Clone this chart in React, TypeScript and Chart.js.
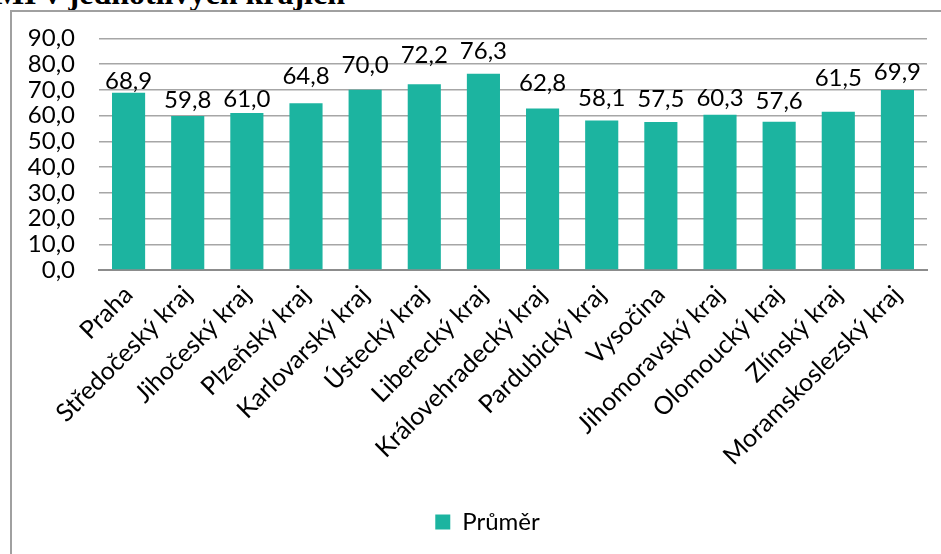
import React, { useEffect, useRef } from "react";
import { Chart, registerables } from "chart.js";

Chart.register(...registerables);

const categories = [
  "Praha",
  "Středočeský kraj",
  "Jihočeský kraj",
  "Plzeňský kraj",
  "Karlovarský kraj",
  "Ústecký kraj",
  "Liberecký kraj",
  "Královehradecký kraj",
  "Pardubický kraj",
  "Vysočina",
  "Jihomoravský kraj",
  "Olomoucký kraj",
  "Zlínský kraj",
  "Moramskoslezský kraj",
];
const seriesName = "Průměr";
const values = [68.9, 59.8, 61.0, 64.8, 70.0, 72.2, 76.3, 62.8, 58.1, 57.5, 60.3, 57.6, 61.5, 69.9];
const yTicks = [0, 10, 20, 30, 40, 50, 60, 70, 80, 90];
const titleText = "Graf 1: Průměrné hodnoty BMI v jednotlivých krajích";

// style: per-label gap (px) between bar top and label baseline, as placed in the original
const labelLift = [4, 8, 6, 19, 17, 21, 15, 17, 14, 15, 9, 13, 26, 10];

const FONT = "Lato, 'Open Sans', sans-serif";
const BAR = "#1cb4a0";
const fmt = (v: number) => v.toFixed(1).replace(".", ",");

const dataLabels = {
  id: "dataLabels",
  afterDatasetsDraw(chart: any) {
    const ctx = chart.ctx;
    const meta = chart.getDatasetMeta(0);
    ctx.save();
    ctx.font = `24px ${FONT}`;
    ctx.fillStyle = "#000";
    ctx.textAlign = "center";
    ctx.textBaseline = "alphabetic";
    meta.data.forEach((bar: any, i: number) => {
      ctx.fillText(fmt(values[i]), bar.x, bar.y - labelLift[i]);
    });
    ctx.restore();
  },
};

const legendShift = {
  id: "legendShift",
  afterLayout(chart: any) {
    if (chart.legend) {
      chart.legend.left += 24;
      chart.legend.right += 24;
    }
  },
};

export default function App() {
  const ref = useRef<HTMLCanvasElement>(null);
  useEffect(() => {
    if (!ref.current) return;
    const chart = new Chart(ref.current, {
      type: "bar",
      data: {
        labels: categories,
        datasets: [
          {
            label: seriesName,
            data: values,
            backgroundColor: BAR,
            borderWidth: 0,
            barPercentage: 0.56,
            categoryPercentage: 1,
          },
        ],
      },
      options: {
        animation: false,
        responsive: false,
        maintainAspectRatio: false,
        layout: { padding: { top: 38, right: 14, bottom: 10, left: 0 } },
        plugins: {
          title: { display: false },
          tooltip: { enabled: false },
          legend: {
            display: true,
            position: "bottom",
            labels: {
              boxWidth: 15,
              boxHeight: 15,
              color: "#000",
              font: { family: FONT, size: 24 },
              padding: 6,
            },
          },
        },
        scales: {
          x: {
            grid: { display: false, drawTicks: false },
            border: { display: true, color: "#8c8c8c", width: 2 },
            ticks: {
              color: "#000",
              font: { family: FONT, size: 25 },
              maxRotation: 45,
              minRotation: 45,
              autoSkip: false,
              padding: 10,
            },
            afterFit: (s: any) => {
              s.height = 234;
            },
          },
          y: {
            min: yTicks[0],
            max: yTicks[yTicks.length - 1],
            grid: { color: "#a6a6a6", lineWidth: 1.5, drawTicks: false },
            border: { display: false },
            ticks: {
              color: "#000",
              font: { family: FONT, size: 24 },
              padding: 24,
              autoSkip: false,
              callback: (v: any) => fmt(Number(v)),
            },
            afterBuildTicks: (s: any) => {
              s.ticks = yTicks.map((v) => ({ value: v }));
            },
            afterFit: (s: any) => {
              s.width = 99;
            },
          },
        },
      },
      plugins: [dataLabels, legendShift],
    });
    return () => chart.destroy();
  }, []);

  return (
    <div
      style={{
        position: "fixed",
        left: 0,
        top: 0,
        width: 941,
        height: 554,
        overflow: "hidden",
        background: "#fff",
      }}
    >
      <div
        style={{
          position: "absolute",
          right: 941 - 345,
          top: -27,
          whiteSpace: "nowrap",
          fontFamily: "'Liberation Serif', 'Times New Roman', serif",
          fontWeight: "bold",
          fontSize: 32,
          lineHeight: "40px",
          color: "#000",
        }}
      >
        {titleText}
      </div>
      <div
        style={{
          position: "absolute",
          left: 10,
          top: 10,
          width: 980,
          height: 560,
          borderLeft: "2px solid #a0a0a0",
          borderTop: "2px solid #a0a0a0",
        }}
      />
      <canvas
        ref={ref}
        width={941}
        height={554}
        style={{ position: "absolute", left: 0, top: 0, width: 941, height: 554 }}
      />
    </div>
  );
}
